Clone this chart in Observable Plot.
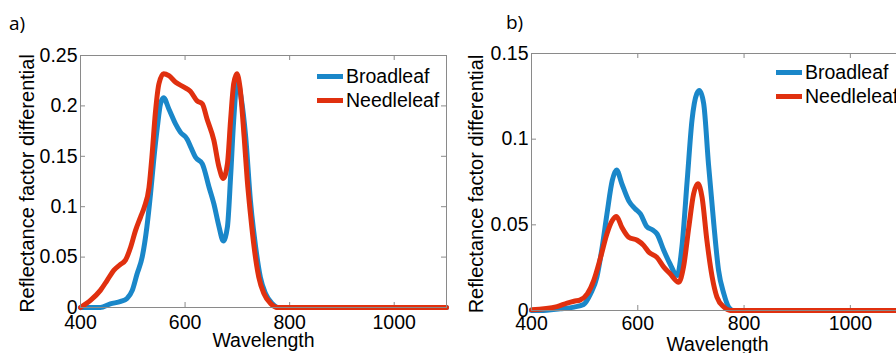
<!DOCTYPE html>
<html>
<head>
<meta charset="utf-8">
<script src="https://cdn.jsdelivr.net/npm/d3@7"></script>
<script src="https://cdn.jsdelivr.net/npm/@observablehq/plot@0.6"></script>
<style>
  html, body { margin: 0; padding: 0; background: #fff; overflow: hidden; }
  #wrap { position: relative; width: 896px; height: 353px; overflow: hidden;
          font-family: "Liberation Sans", Arial, sans-serif; color: #000; }
  .panel { position: absolute; top: 0; }
  .tag { position: absolute; font-family: "Open Sans", sans-serif; font-size: 19px; line-height: 1; }
  .legend { position: absolute; font-size: 19.5px; line-height: 24px; }
  .legend .row { display: flex; align-items: center; height: 24px; white-space: nowrap; }
  .legend .sw { width: 26px; height: 5px; margin-right: 3px; }
</style>
</head>
<body>
<div id="wrap"></div>
<script>
// ---------- data ----------
const seriesNames = ["Broadleaf", "Needleleaf"];
const seriesColors = ["#1a87c9", "#e0300f"];
const xTicks = [400, 600, 800, 1000];
const yTicksA = [0, 0.05, 0.1, 0.15, 0.2, 0.25];
const yTicksB = [0, 0.05, 0.1, 0.15];
const xLabel = "Wavelength";
const yLabel = "Reflectance factor differential";
const panelTags = ["a)", "b)"];

// panel a) Broadleaf
const aBroadWl  = [400, 420, 438, 457, 477, 489, 499, 508, 518, 527, 534, 540, 547, 553, 559, 569, 582, 591, 604, 611, 620, 633, 646, 655, 665, 673, 681, 687, 693, 700, 707, 716, 725, 735, 744, 754, 767, 778, 1100];
const aBroadVal = [0, 0, 0.000, 0.0036, 0.006, 0.009, 0.017, 0.033, 0.050, 0.080, 0.113, 0.146, 0.179, 0.202, 0.208, 0.197, 0.182, 0.174, 0.167, 0.159, 0.149, 0.1425, 0.119, 0.103, 0.080, 0.066, 0.080, 0.129, 0.186, 0.225, 0.209, 0.169, 0.106, 0.060, 0.030, 0.0136, 0.0037, 0, 0];
// panel a) Needleleaf
const aNeedleWl  = [400, 419, 438, 451, 464, 477, 486, 496, 505, 515, 522, 531, 537, 543, 550, 559, 569, 582, 598, 610, 623, 633, 642, 655, 665, 673, 681, 687, 693, 699, 705, 713, 719, 725, 732, 741, 751, 764, 776, 1100];
const aNeedleVal = [0, 0.007, 0.017, 0.027, 0.037, 0.043, 0.047, 0.060, 0.076, 0.090, 0.0995, 0.119, 0.152, 0.192, 0.222, 0.232, 0.230, 0.2235, 0.2186, 0.2145, 0.205, 0.202, 0.187, 0.166, 0.139, 0.128, 0.1425, 0.1855, 0.222, 0.232, 0.2186, 0.169, 0.126, 0.093, 0.060, 0.030, 0.0136, 0.0037, 0, 0];
// panel b) Broadleaf
const bBroadWl  = [400, 417, 454, 480, 498, 511, 523, 533, 542, 552, 560, 570, 583, 595, 605, 617, 628, 636, 649, 661, 674, 683, 693, 702, 711, 716, 724, 733, 743, 752, 762, 771, 780, 1100];
const bBroadVal = [0, 0, 0.001, 0.002, 0.0035, 0.0097, 0.0195, 0.037, 0.0564, 0.0759, 0.082, 0.074, 0.064, 0.0594, 0.0564, 0.049, 0.047, 0.0448, 0.035, 0.027, 0.0204, 0.037, 0.076, 0.111, 0.1265, 0.1284, 0.1207, 0.0856, 0.0506, 0.0234, 0.0097, 0.002, 0, 0];
// panel b) Needleleaf
const bNeedleWl  = [400, 448, 467, 480, 492, 505, 517, 530, 542, 552, 560, 570, 583, 599, 611, 621, 636, 649, 661, 677, 686, 696, 705, 713, 721, 730, 740, 749, 762, 774, 1100];
const bNeedleVal = [0.0004, 0.0023, 0.0043, 0.0054, 0.0062, 0.0097, 0.0175, 0.031, 0.0448, 0.0525, 0.0549, 0.0486, 0.0428, 0.041, 0.038, 0.034, 0.031, 0.0253, 0.0214, 0.0165, 0.0253, 0.0486, 0.068, 0.074, 0.066, 0.041, 0.0195, 0.0078, 0.002, 0, 0];

// ---------- drawing ----------
const FONT = "Liberation Sans, Arial, Helvetica, sans-serif";
const FRAME = "#8a8a8a";
const toRows = (wl, val) => wl.map((w, i) => ({w, v: val[i]}));

function panel(cfg) {
  const H = 353;
  const plotH = H - cfg.mt - cfg.mb;
  const plotW = cfg.width - cfg.ml - cfg.mr;
  const xDom = [400, 1100];
  const ymax = cfg.yTicks[cfg.yTicks.length - 1];
  const tY = ymax * 5 / plotH;                    // inward tick length in data units
  const tX = (xDom[1] - xDom[0]) * 5 / plotW;
  const broad = toRows(cfg.broadWl, cfg.broadVal);
  const needle = toRows(cfg.needleWl, cfg.needleVal);
  const fmt = d => String(d);
  return Plot.plot({
    width: cfg.width, height: H,
    marginLeft: cfg.ml, marginRight: cfg.mr, marginTop: cfg.mt, marginBottom: cfg.mb,
    style: {fontFamily: FONT, fontSize: "19.5px", color: "#000", background: "transparent", overflow: "visible", maxWidth: "none"},
    x: {domain: xDom},
    y: {domain: [0, ymax]},
    marks: [
      Plot.ruleX(xTicks, {y1: 0, y2: tY, stroke: FRAME}),
      Plot.ruleX(xTicks, {y1: ymax - tY, y2: ymax, stroke: FRAME}),
      Plot.ruleY(cfg.yTicks, {x1: xDom[0], x2: xDom[0] + tX, stroke: FRAME}),
      Plot.ruleY(cfg.yTicks, {x1: xDom[1] - tX, x2: xDom[1], stroke: FRAME}),
      Plot.axisX(xTicks, {tickSize: 0, tickPadding: cfg.xPad, tickFormat: fmt, label: null, fontSize: 19.5, fontFamily: FONT, fill: "#000"}),
      Plot.axisY(cfg.yTicks, {tickSize: 0, tickPadding: 3, tickFormat: fmt, label: null, fontSize: 19.5, fontFamily: FONT, fill: "#000"}),
      Plot.line(broad, {x: "w", y: "v", stroke: seriesColors[0], strokeWidth: 5, curve: "monotone-x", strokeLinejoin: "round", strokeLinecap: "round"}),
      Plot.line(needle, {x: "w", y: "v", stroke: seriesColors[1], strokeWidth: 5, curve: "monotone-x", strokeLinejoin: "round", strokeLinecap: "round"}),
      Plot.frame({stroke: FRAME, strokeWidth: 1}),
      Plot.text([xLabel], {frameAnchor: "bottom", lineAnchor: "top", dy: cfg.xLabelDy, fontSize: 19.5, fontFamily: FONT, fill: "#000"}),
      Plot.text([yLabel], {frameAnchor: "left", textAnchor: "middle", rotate: -90, dx: cfg.yLabelDx, dy: cfg.yLabelDy, fontSize: 20, fontFamily: FONT, fill: "#000"})
    ]
  });
}

function addLegend(wrap, left, top) {
  const lg = document.createElement("div");
  lg.className = "legend";
  lg.style.left = left + "px";
  lg.style.top = top + "px";
  seriesNames.forEach((name, i) => {
    const row = document.createElement("div");
    row.className = "row";
    const sw = document.createElement("span");
    sw.className = "sw";
    sw.style.background = seriesColors[i];
    const tx = document.createElement("span");
    tx.textContent = name;
    row.appendChild(sw); row.appendChild(tx);
    lg.appendChild(row);
  });
  wrap.appendChild(lg);
}

function addTag(wrap, text, left, top) {
  const t = document.createElement("div");
  t.className = "tag";
  t.textContent = text;
  t.style.left = left + "px";
  t.style.top = top + "px";
  wrap.appendChild(t);
}

const wrap = document.getElementById("wrap");

const pa = document.createElement("div");
pa.className = "panel"; pa.style.left = "0px"; pa.style.width = "448px";
pa.appendChild(panel({
  width: 448, ml: 80, mr: 2, mt: 55, mb: 46, xPad: 8, xLabelDy: 26, yLabelDx: -53, yLabelDy: 2,
  yTicks: yTicksA, broadWl: aBroadWl, broadVal: aBroadVal, needleWl: aNeedleWl, needleVal: aNeedleVal
}));
wrap.appendChild(pa);

const pb = document.createElement("div");
pb.className = "panel"; pb.style.left = "446px"; pb.style.width = "460px";
pb.appendChild(panel({
  width: 460, ml: 85, mr: 3, mt: 53, mb: 43, xPad: 6, xLabelDy: 27, yLabelDx: -55, yLabelDy: 2,
  yTicks: yTicksB, broadWl: bBroadWl, broadVal: bBroadVal, needleWl: bNeedleWl, needleVal: bNeedleVal
}));
wrap.appendChild(pb);

addLegend(wrap, 317, 64);
addLegend(wrap, 776, 60);
addTag(wrap, panelTags[0], 9, 14);
addTag(wrap, panelTags[1], 506, 13);
</script>
</body>
</html>
